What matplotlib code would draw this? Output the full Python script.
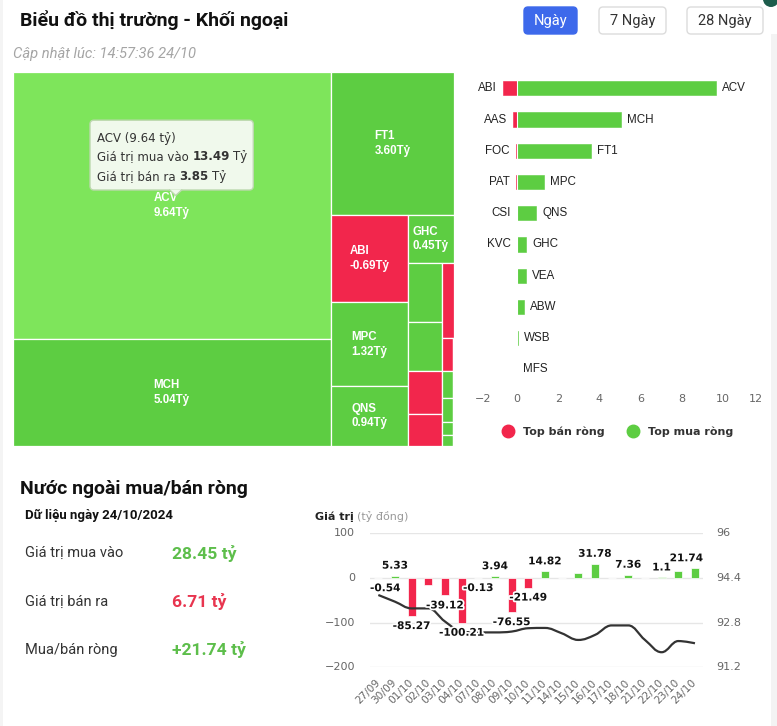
import matplotlib
matplotlib.use('Agg')
import matplotlib.pyplot as plt
import matplotlib.patheffects as pe
from matplotlib.patches import Rectangle, FancyBboxPatch, Circle, Polygon, PathPatch
from matplotlib.path import Path
from matplotlib.lines import Line2D

# ---- data ----
# treemap: size = buy + sell value (ty dong), colour from net value
tm_names = ['ACV', 'MCH', 'FT1', 'ABI', 'MPC', 'QNS', 'GHC', 'VEA', 'ABW', 'AAS',
            'FOC', 'PAT', 'CSI', 'WSB', 'MFS', '', '', 'KVC', '', '']
tm_size = [17.34, 6.90, 3.60, 1.37, 1.32, 0.94, 0.45, 0.41, 0.335, 0.30,
           0.22, 0.185, 0.074, 0.062, 0.056, 0.029, 0.025, 0.008, 0.006, 0.004]
tm_net = [9.64, 5.04, 3.60, -0.69, 1.32, 0.94, 0.45, 0.42, 0.32, -0.19,
          -0.07, -0.06, -0.01, 0.04, 0.01, 0.01, 0.01, -0.005, 0.004, 0.002]
tip_name = 'ACV'
tip_buy = 13.49
tip_sell = 3.85

buy_names = ['ACV', 'MCH', 'FT1', 'MPC', 'QNS', 'GHC', 'VEA', 'ABW', 'WSB', 'MFS']
buy_values = [9.64, 5.04, 3.60, 1.32, 0.94, 0.45, 0.42, 0.32, 0.04, 0.01]
sell_names = ['ABI', 'AAS', 'FOC', 'PAT', 'CSI', 'KVC']
sell_values = [-0.69, -0.19, -0.07, -0.06, -0.01, -0.005]
bar_ticks = [-2, 0, 2, 4, 6, 8, 10, 12]

day_buy = 28.45
day_sell = 6.71
day_net = 21.74

dates = ['27/09', '30/09', '01/10', '02/10', '03/10', '04/10', '07/10', '08/10', '09/10', '10/10',
         '11/10', '14/10', '15/10', '16/10', '17/10', '18/10', '21/10', '22/10', '23/10', '24/10']
net_flow = [-0.54, 5.33, -85.27, -16.0, -39.12, -100.21, -0.13, 3.94, -76.55, -21.49,
            14.82, 0.0, 11.0, 31.78, 1.0, 7.36, 0.0, 1.1, 15.5, 21.74]
index_line = [93.79, 93.55, 93.31, 93.31, 92.84, 92.48, 92.45, 92.45, 92.48, 92.60,
              92.61, 92.42, 92.18, 92.36, 92.70, 92.70, 92.18, 91.74, 92.14, 92.06]
hidden_labels = ['02/10', '14/10', '15/10', '17/10', '21/10', '23/10']
left_ticks = [-200, -100, 0, 100]
right_ticks = [91.2, 92.8, 94.4, 96]

GREEN = '#5dcd42'
RED = '#f2264c'
HOVER = '#7ee55b'
W, H = 777, 726

fig = plt.figure(figsize=(W / 100, H / 100), dpi=100)
fig.patch.set_facecolor('white')


def px_axes(x0, y0, x1, y1):
    return fig.add_axes([x0 / W, 1 - y1 / H, (x1 - x0) / W, (y1 - y0) / H])


def rich(ax, x, y, parts, gap=3.5, **kw):
    r = fig.canvas.get_renderer()
    for txt, extra in parts:
        t = ax.text(x, y, txt, ha='left', va='center', **kw, **extra)
        x += t.get_window_extent(renderer=r).width + gap


def hc_squarified(values, w, h):
    # port of the highcharts "squarified" treemap layout
    tot = sum(values)
    rects = []
    g = dict(w=w, h=h, d=0, els=[], total=0.0, nW=0.0, lW=0.0, nH=0.0, lH=0.0, lR=None, nR=None)
    pos = [0.0, 0.0]

    def ar(a, b):
        return max(a / b, b / a)

    def add(el):
        last = g['els'][-1] if g['els'] else None
        g['total'] += el
        if g['d'] == 0:
            g['lW'] = g['nW']
            g['lR'] = ar(g['lW'], last / g['lW']) if last else None
            g['nW'] = g['total'] / g['h']
            g['nR'] = ar(g['nW'], last / g['nW']) if last else None
        else:
            g['lH'] = g['nH']
            g['lR'] = ar(last / g['lH'], g['lH']) if last else None
            g['nH'] = g['total'] / g['w']
            g['nR'] = ar(last / g['nH'], g['nH']) if last else None
        g['els'].append(el)

    def calc(final):
        gW, gH = (g['nW'], g['nH']) if final else (g['lW'], g['lH'])
        keep = None if final else g['els'][-1]
        els = g['els'] if final else g['els'][:-1]
        for p in els:
            if g['d'] == 0:
                rects.append((pos[0], pos[1], gW, p / gW))
                pos[1] += p / gW
            else:
                rects.append((pos[0], pos[1], p / gH, gH))
                pos[0] += p / gH
        g['els'] = []
        g['total'] = 0.0
        g['nW'] = g['lW'] = 0.0
        if g['d'] == 0:
            g['w'] -= gW
        else:
            g['h'] -= gH
        pos[1] = h - g['h']
        pos[0] = w - g['w']
        g['d'] = 1 - g['d']
        if keep is not None:
            add(keep)

    for i, v in enumerate(values):
        add(w * h * v / tot)
        if g['nR'] is not None and g['lR'] is not None and g['nR'] > g['lR']:
            calc(False)
        if i == len(values) - 1:
            calc(True)
    return rects


# ---- background / header ----
bg = px_axes(0, 0, W, H)
bg.set_xlim(0, W)
bg.set_ylim(H, 0)
bg.axis('off')
bg.add_patch(Rectangle((0, 0), 3, H, fc='#f4f4f4', ec='none'))
bg.add_patch(Rectangle((771, 34), 6, H, fc='#f3f3f3', ec='none'))
bg.add_patch(Circle((771, -1), 8, fc='#1d5c4c', ec='none'))

bg.text(20, 20, 'Biểu đồ thị trường - Khối ngoại', fontsize=14, fontweight='bold',
        family='Roboto', color='#111', va='center')
bg.text(13, 54, 'Cập nhật lúc: 14:57:36 24/10', fontsize=10.6, style='italic',
        family='Roboto', color='#a5a5a5', va='center')

buttons = [('Ngày', 524, 577, True), ('7 Ngày', 599, 666, False), ('28 Ngày', 687, 763, False)]
for label, x0, x1, active in buttons:
    bg.add_patch(FancyBboxPatch((x0, 7), x1 - x0, 27, boxstyle='round,pad=0,rounding_size=4',
                                fc='#3d69eb' if active else 'white',
                                ec='#3d69eb' if active else '#dcdcdc', lw=1))
    bg.text((x0 + x1) / 2, 20.5, label, ha='center', va='center', fontsize=10.5, family='Roboto',
            color='white' if active else '#333')

# ---- treemap ----
TX0, TY0, TX1, TY1 = 12.7, 71.7, 454, 446
TW, TH = TX1 - TX0, TY1 - TY0
tm = px_axes(TX0, TY0, TX1, TY1)
tm.set_xlim(0, TW)
tm.set_ylim(TH, 0)
tm.axis('off')

order = sorted(range(len(tm_size)), key=lambda k: -tm_size[k])
rects = hc_squarified([tm_size[k] for k in order], TW, TH)
for k, (x, y, w, h) in zip(order, rects):
    name, net = tm_names[k], tm_net[k]
    fc = HOVER if name == tip_name else (GREEN if net >= 0 else RED)
    tm.add_patch(Rectangle((x, y), w, h, fc=fc, ec='white', lw=0.9))
    if name and w > 40 and h > 30:
        tm.text(x + w / 2, y + h / 2, f'{name}\n{net:.2f}Tỷ', ha='center', va='center',
                multialignment='left', color='white', fontsize=8.3, fontweight='bold',
                family='Liberation Sans', linespacing=1.3)

# tooltip over ACV
tk = tm_names.index(tip_name)
bx0, by0, bx1, by1 = 77.3, 48.5, 240.6, 118.3
tipx = 163
tm.add_patch(FancyBboxPatch((bx0, by0), bx1 - bx0, by1 - by0, boxstyle='round,pad=0,rounding_size=4',
                            fc='#f0f9ec', ec='#bcd8ae', lw=1, zorder=5))
tm.add_patch(Polygon([(tipx - 6, by1 - 0.5), (tipx, by1 + 5.5), (tipx + 6, by1 - 0.5)],
                     closed=True, fc='#f0f9ec', ec='none', zorder=6))
tm.plot([tipx - 6, tipx, tipx + 6], [by1, by1 + 5.5, by1], color='#bcd8ae', lw=1, zorder=6)
tfont = dict(fontsize=8.5, color='#333', family='DejaVu Sans', zorder=7)
rich(tm, 84.6, 66.6, [(f'{tip_name} ({tm_net[tk]:.2f} tỷ)', {})], **tfont)
rich(tm, 84.6, 85.2, [('Giá trị mua vào', {}), (f'{tip_buy:.2f}', {'fontweight': 'bold'}), ('Tỷ', {})], **tfont)
rich(tm, 84.6, 105.0, [('Giá trị bán ra', {}), (f'{tip_sell:.2f}', {'fontweight': 'bold'}), ('Tỷ', {})], **tfont)

# ---- top buy / sell bars ----
bc = px_axes(475.8, 72.7, 764.2, 385)
bc.barh(range(len(buy_values)), buy_values, height=0.46, color=GREEN, ec=GREEN, lw=0.4)
bc.barh(range(len(sell_values)), sell_values, height=0.46, color=RED, ec=RED, lw=0.4)
bc.axvline(0, color='white', lw=0.8)
for i, (n, v) in enumerate(zip(buy_names, buy_values)):
    bc.annotate(n, xy=(v, i), xytext=(6, 0), textcoords='offset pixels', ha='left', va='center',
                fontsize=8.4, family='Liberation Sans', color='#222')
for i, (n, v) in enumerate(zip(sell_names, sell_values)):
    bc.annotate(n, xy=(v, i), xytext=(-6, 0), textcoords='offset pixels', ha='right', va='center',
                fontsize=8.4, family='Liberation Sans', color='#222')
bc.set_xlim(bar_ticks[0], bar_ticks[-1])
bc.set_ylim(len(buy_values) - 0.5, -0.5)
bc.axis('off')
for t in bar_ticks:
    dx = 7 if t == bar_ticks[0] else (-8 if t == bar_ticks[-1] else 0)
    bc.annotate(str(t).replace('-', '\u2212'), xy=(t, 0), xycoords=('data', 'axes fraction'),
                xytext=(dx, -14.3), textcoords='offset pixels', ha='center', va='center',
                fontsize=8, color='#666')
handles = [Line2D([], [], marker='o', ls='', color=RED, markersize=9),
           Line2D([], [], marker='o', ls='', color=GREEN, markersize=9)]
fig.legend(handles, ['Top bán ròng', 'Top mua ròng'], loc='center', bbox_to_anchor=(618 / W, 1 - 432 / H),
           ncol=2, frameon=False, handletextpad=0.9, columnspacing=2.0, handlelength=1.0,
           prop={'size': 8.0, 'weight': 'bold', 'family': 'DejaVu Sans'}, labelcolor='#333')

# ---- bottom left summary ----
bg.text(20, 489, 'Nước ngoài mua/bán ròng', fontsize=14, fontweight='bold', family='Roboto',
        color='#111', va='center')
bg.text(25, 515, 'Dữ liệu ngày 24/10/2024', fontsize=9.5, fontweight='bold', family='Roboto',
        color='#111', va='center')
rows = [('Giá trị mua vào', f'{day_buy:.2f} tỷ', '#5dbe4b', 553),
        ('Giá trị bán ra', f'{day_sell:.2f} tỷ', '#e8354f', 602),
        ('Mua/bán ròng', f'+{day_net:.2f} tỷ', '#5dbe4b', 650)]
for lab, val, col, y in rows:
    bg.text(25, y, lab, fontsize=10.5, family='Roboto', color='#333', va='center')
    bg.text(172, y, val, fontsize=12.6, fontweight='bold', family='Roboto', color=col, va='center')

# ---- bottom right chart ----
rich(bg, 315, 517, [('Giá trị', {'fontweight': 'bold', 'color': '#222'}),
                    ('(tỷ đồng)', {'color': '#999'})], fontsize=8, family='DejaVu Sans')
ch = px_axes(370, 533.3, 703.3, 667.3)
xs = list(range(len(dates)))
ch.bar(xs, net_flow, width=0.48, color=[GREEN if v >= 0 else RED for v in net_flow],
       ec='white', lw=0.5, zorder=2)
ch.set_xlim(-0.5, len(dates) - 0.5)
ch.set_ylim(left_ticks[0], left_ticks[-1])
ch.set_yticks(left_ticks)
ch.set_yticklabels([])
ch.grid(axis='y', color='#e6e6e6', lw=1, zorder=0)
ch.set_axisbelow(True)
for s in ch.spines.values():
    s.set_visible(False)
ch.set_xticks(xs)
ch.set_xticklabels(dates, rotation=45, ha='right', va='center', rotation_mode='anchor')
ch.tick_params(axis='x', length=0, pad=10, labelsize=7.6, labelcolor='#666')
ch.tick_params(axis='y', length=0)
for t in left_ticks:
    ch.annotate(str(t).replace('-', '\u2212'), xy=(0, t), xycoords=('axes fraction', 'data'),
                xytext=(-15, 0), textcoords='offset pixels', ha='right', va='center',
                fontsize=8, color='#666')

ax2 = ch.twinx()
ax2.set_ylim(right_ticks[0], right_ticks[-1])
ax2.set_yticks([])
for s in ax2.spines.values():
    s.set_visible(False)
for t in right_ticks:
    ax2.annotate(f'{t:g}', xy=(1, t), xycoords=('axes fraction', 'data'),
                 xytext=(13.4, 0), textcoords='offset pixels', ha='left', va='center',
                 fontsize=8, color='#666')

# spline through the index values (highcharts style control points)
sm = 1.5
den = sm + 1
verts = [(xs[0], index_line[0])]
codes = [Path.MOVETO]
prev_right = (xs[0], index_line[0])
for i in range(1, len(xs)):
    px_, py_ = xs[i], index_line[i]
    lx, ly = xs[i - 1], index_line[i - 1]
    if i < len(xs) - 1:
        nx, ny = xs[i + 1], index_line[i + 1]
        lcx, lcy = (sm * px_ + lx) / den, (sm * py_ + ly) / den
        rcx, rcy = (sm * px_ + nx) / den, (sm * py_ + ny) / den
        corr = (rcy - lcy) * (rcx - px_) / (rcx - lcx) + py_ - rcy
        lcy += corr
        rcy += corr
        if lcy > ly and lcy > py_:
            lcy = max(ly, py_)
            rcy = 2 * py_ - lcy
        elif lcy < ly and lcy < py_:
            lcy = min(ly, py_)
            rcy = 2 * py_ - lcy
        if rcy > ny and rcy > py_:
            rcy = max(ny, py_)
            lcy = 2 * py_ - rcy
        elif rcy < ny and rcy < py_:
            rcy = min(ny, py_)
            lcy = 2 * py_ - rcy
    else:
        lcx, lcy = px_, py_
        rcx, rcy = px_, py_
    verts += [prev_right, (lcx, lcy), (px_, py_)]
    codes += [Path.CURVE4] * 3
    prev_right = (rcx, rcy)
ax2.add_patch(PathPatch(Path(verts, codes), fill=False, ec='#333', lw=1.6, zorder=3))

# data labels, kept inside the plot area like highcharts does
r = fig.canvas.get_renderer()
plot_bb = ch.get_window_extent(r)
for i, (d, v) in enumerate(zip(dates, net_flow)):
    if d in hidden_labels:
        continue
    dy = 5 if v >= 0 else -5
    a = ax2.annotate(f'{v:g}', xy=(i, v), xycoords=ch.transData, xytext=(0, dy),
                     textcoords='offset pixels', ha='center', va='bottom' if v >= 0 else 'top',
                     fontsize=7.6, fontweight='bold', color='#111', zorder=6,
                     path_effects=[pe.withStroke(linewidth=2.5, foreground='white')])
    bb = a.get_window_extent(r)
    if bb.x0 < plot_bb.x0:
        a.xyann = (plot_bb.x0 - bb.x0, dy)
    elif bb.x1 > plot_bb.x1:
        a.xyann = (plot_bb.x1 - bb.x1, dy)

fig.savefig('out.png', dpi=100, facecolor='white')
